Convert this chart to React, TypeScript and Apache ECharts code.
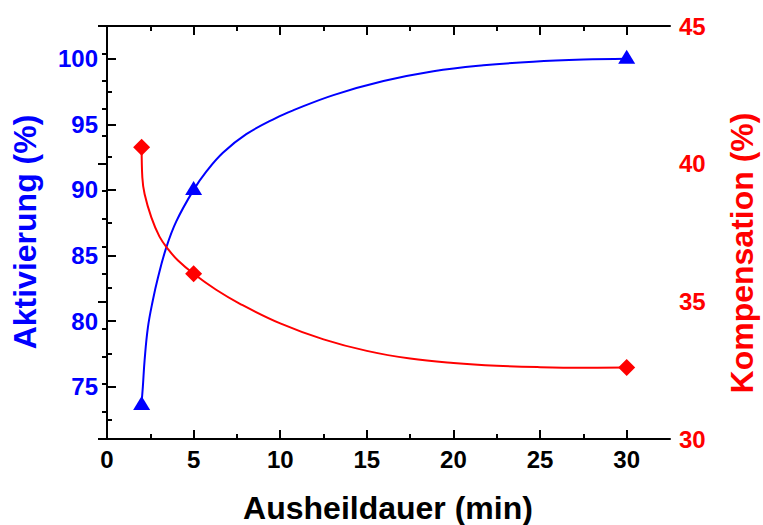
import React, { useEffect, useRef } from "react";
import * as echarts from "echarts";

// ---- data ----
const xMajorTicks = [0, 5, 10, 15, 20, 25, 30];
const xMinorTicks = [2.5, 7.5, 12.5, 17.5, 22.5, 27.5];
const leftMajorTicks = [75, 80, 85, 90, 95, 100];
const leftMinorTicks = [72.5, 77.5, 82.5, 87.5, 92.5, 97.5];

const durations = [2, 5, 30];
const aktivierung = [73.6, 90, 100];
const kompensation = [40.6, 36.0, 32.6];

// fitted curves, points
const aktivCurveX = [2, 2.07, 2.17, 2.36, 2.65, 2.94, 3.42, 4.0, 5, 5.73, 6.69, 8.04, 9.77, 10.77, 13.07, 15.96, 18.84, 21.73, 24.6, 27.5, 30];
const aktivCurveY = [73.8, 75.0, 77.0, 79.5, 81.6, 83.3, 85.6, 87.6, 90.0, 91.39, 92.83, 94.25, 95.5, 96.08, 97.23, 98.3, 99.05, 99.5, 99.78, 99.94, 100.0];

const kompCurveX = [2, 2.04, 2.17, 2.56, 3.03, 3.52, 4.1, 5, 6.3, 7.65, 10, 12.5, 15, 17.5, 20, 22.5, 25, 27.5, 30];
const kompCurveY = [40.6, 39.5, 38.9, 38.05, 37.35, 36.9, 36.48, 36.0, 35.42, 34.92, 34.2, 33.62, 33.2, 32.92, 32.76, 32.66, 32.61, 32.59, 32.6];

const FONT = '"Liberation Sans", Arial, Helvetica, sans-serif';

export default function App() {
  const ref = useRef<HTMLDivElement>(null);

  useEffect(() => {
    document.body.style.margin = "0";
    const chart = echarts.init(ref.current!, undefined, { renderer: "svg" });

    const black = "#000000";
    const blue = "#0000FF";
    const red = "#FF0000";

    const zip = (xs: number[], ys: number[]) => xs.map((x, i) => [x, ys[i]]);

    const tickStyle = { color: black, width: 2 };
    const baseAxis = { type: "value" as const, splitLine: { show: false } };

    chart.setOption({
      animation: false,
      backgroundColor: "#ffffff",
      grid: { left: 107, top: 26, width: 563, height: 413, containLabel: false },
      xAxis: [
        {
          ...baseAxis,
          min: 0,
          max: 32.5,
          position: "bottom",
          axisLine: { show: true, lineStyle: { color: black, width: 2 } },
          axisTick: { show: true, inside: true, length: 9, lineStyle: tickStyle, customValues: xMajorTicks },
          axisLabel: {
            show: true,
            customValues: xMajorTicks,
            color: black,
            fontSize: 24,
            fontWeight: "bold",
            fontFamily: FONT,
            margin: 8,
          },
        },
        {
          ...baseAxis,
          min: 0,
          max: 32.5,
          position: "bottom",
          axisLine: { show: false },
          axisTick: { show: true, inside: true, length: 5, lineStyle: tickStyle, customValues: xMinorTicks },
          axisLabel: { show: false },
        },
        {
          ...baseAxis,
          min: 0,
          max: 32.5,
          position: "top",
          axisLine: { show: true, lineStyle: { color: black, width: 2 } },
          axisTick: { show: true, inside: true, length: 9, lineStyle: tickStyle, customValues: xMajorTicks },
          axisLabel: { show: false },
        },
        {
          ...baseAxis,
          min: 0,
          max: 32.5,
          position: "top",
          axisLine: { show: false },
          axisTick: { show: true, inside: true, length: 5, lineStyle: tickStyle, customValues: xMinorTicks },
          axisLabel: { show: false },
        },
      ],
      yAxis: [
        {
          ...baseAxis,
          min: 71,
          max: 102.5,
          position: "left",
          axisLine: { show: true, lineStyle: { color: black, width: 2 } },
          axisTick: { show: true, inside: true, length: 9, lineStyle: tickStyle, customValues: leftMajorTicks },
          axisLabel: {
            show: true,
            customValues: leftMajorTicks,
            color: blue,
            fontSize: 24,
            fontWeight: "bold",
            fontFamily: FONT,
            margin: 9,
          },
        },
        {
          ...baseAxis,
          min: 71,
          max: 102.5,
          position: "left",
          axisLine: { show: false },
          axisTick: { show: true, inside: true, length: 5, lineStyle: tickStyle, customValues: leftMinorTicks },
          axisLabel: { show: false },
        },
        {
          ...baseAxis,
          min: 30,
          max: 45,
          interval: 5,
          position: "right",
          axisLine: { show: true, lineStyle: { color: black, width: 2 } },
          axisTick: { show: true, inside: true, length: 9, lineStyle: tickStyle },
          minorTick: { show: true, splitNumber: 5, length: 5, lineStyle: tickStyle },
          minorSplitLine: { show: false },
          axisLabel: {
            show: true,
            color: red,
            fontSize: 24,
            fontWeight: "bold",
            fontFamily: FONT,
            margin: 9,
          },
        },
      ],
      series: [
        {
          name: "Aktivierung Kurve",
          type: "line",
          xAxisIndex: 0,
          yAxisIndex: 0,
          data: zip(aktivCurveX, aktivCurveY),
          showSymbol: false,
          symbol: "none",
          smooth: 0.4,
          lineStyle: { color: blue, width: 2 },
          z: 2,
        },
        {
          name: "Kompensation Kurve",
          type: "line",
          xAxisIndex: 0,
          yAxisIndex: 2,
          data: zip(kompCurveX, kompCurveY),
          showSymbol: false,
          symbol: "none",
          smooth: 0.4,
          lineStyle: { color: red, width: 2 },
          z: 2,
        },
        {
          name: "Aktivierung",
          type: "scatter",
          xAxisIndex: 0,
          yAxisIndex: 0,
          data: zip(durations, aktivierung),
          symbol: "triangle",
          symbolSize: [17, 14],
          symbolOffset: [0, -2],
          itemStyle: { color: blue, opacity: 1 },
          z: 3,
        },
        {
          name: "Kompensation",
          type: "scatter",
          xAxisIndex: 0,
          yAxisIndex: 2,
          data: zip(durations, kompensation),
          symbol: "diamond",
          symbolSize: [17, 17],
          itemStyle: { color: red, opacity: 1 },
          z: 3,
        },
      ],
      graphic: [
        {
          type: "text",
          x: 25,
          y: 232,
          rotation: Math.PI / 2,
          style: {
            text: "Aktivierung (%)",
            fill: blue,
            font: `bold 32px ${FONT}`,
            align: "center",
            verticalAlign: "middle",
            textAlign: "center",
            textVerticalAlign: "middle",
          },
        },
        {
          type: "text",
          x: 742,
          y: 253,
          rotation: Math.PI / 2,
          style: {
            text: "Kompensation (%)",
            fill: red,
            font: `bold 32px ${FONT}`,
            align: "center",
            verticalAlign: "middle",
            textAlign: "center",
            textVerticalAlign: "middle",
          },
        },
        {
          type: "text",
          x: 388,
          y: 508,
          style: {
            text: "Ausheildauer (min)",
            fill: black,
            font: `bold 32px ${FONT}`,
            align: "center",
            verticalAlign: "middle",
            textAlign: "center",
            textVerticalAlign: "middle",
          },
        },
      ],
    });

    return () => chart.dispose();
  }, []);

  return (
    <div
      ref={ref}
      style={{ position: "absolute", left: 0, top: 0, width: 763, height: 525 }}
    />
  );
}
